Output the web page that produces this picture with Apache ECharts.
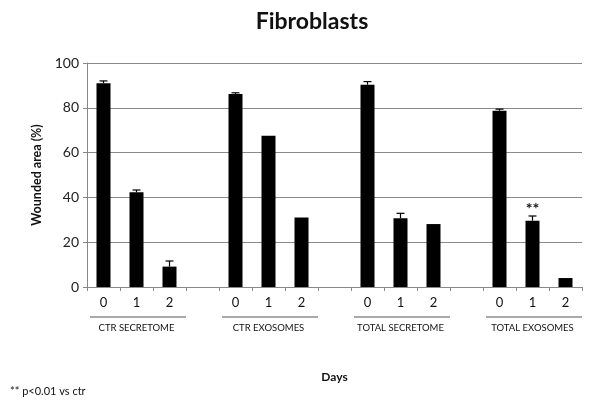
<!DOCTYPE html>
<html><head><meta charset="utf-8">
<script src="https://cdn.jsdelivr.net/npm/echarts@6/dist/echarts.min.js"></script>
<style>html,body{margin:0;padding:0;background:#fff}#c{width:598px;height:408px}</style>
</head><body><div id="c"></div>
<script>
const days = ['0','1','2','','0','1','2','','0','1','2','','0','1','2'];
const groups = ['CTR SECRETOME','CTR EXOSOMES','TOTAL SECRETOME','TOTAL EXOSOMES'];
const groupLabelSlots = ['','CTR SECRETOME','','','','CTR EXOSOMES','','','','TOTAL SECRETOME','','','','TOTAL EXOSOMES',''];
const values = [91, 42.3, 9.1, null, 86.2, 67.5, 31, null, 90.3, 30.7, 28.1, null, 78.7, 29.6, 4];
const errors = [1, 1, 2.5, null, 0.5, 0, 0, null, 1.4, 2.2, 0, null, 0.7, 2.1, 0];
const marks = ['', '', '', '', '', '', '', '', '', '', '', '', '', '**', ''];
const yTicks = [0, 20, 40, 60, 80, 100];

const font = 'Lato, "Liberation Sans", sans-serif';
const chart = echarts.init(document.getElementById('c'));
const errData = values.map((v, i) => v == null ? null : [i, v, errors[i], marks[i]]).filter(d => d);
const footnote = {type: 'text', left: 10, top: 386, style: {text: '** p<0.01 vs ctr', fontFamily: font, fontSize: 11, fill: '#111'}};

chart.setOption({
  animation: false,
  title: {text: 'Fibroblasts', left: 307, top: 5, textAlign: 'center',
    textStyle: {fontFamily: font, fontSize: 23, fontWeight: 'bold', color: '#111'}},
  grid: {left: 87, right: 16, top: 63, bottom: 121},
  xAxis: [{
    type: 'category', data: days, position: 'bottom',
    axisLine: {lineStyle: {color: '#888'}},
    axisTick: {show: true, alignWithLabel: false, length: 4, lineStyle: {color: '#888'}, interval: 0},
    axisLabel: {interval: 0, margin: 9, fontFamily: font, fontSize: 13, color: '#111'},
    name: 'Days', nameLocation: 'middle', nameGap: 84,
    nameTextStyle: {fontFamily: font, fontSize: 12, fontWeight: 'bold', color: '#111'}
  }, {
    type: 'category', data: groupLabelSlots, position: 'bottom', offset: 36,
    axisLine: {show: false}, axisTick: {show: false},
    axisLabel: {interval: 0, fontFamily: font, fontSize: 9.5, color: '#111', margin: 0}
  }],
  yAxis: {
    type: 'value', min: 0, max: 100, interval: 20,
    axisLine: {show: true, lineStyle: {color: '#888'}},
    axisTick: {show: true, length: 4, inside: false, lineStyle: {color: '#888'}},
    splitLine: {lineStyle: {color: '#8a8a8a', width: 1}},
    axisLabel: {margin: 8, fontFamily: font, fontSize: 14, color: '#222',
      formatter: v => yTicks.includes(v) ? String(v) : ''},
    name: 'Wounded area (%)', nameLocation: 'middle', nameGap: 41, nameRotate: 90,
    nameTextStyle: {fontFamily: font, fontSize: 12.5, fontWeight: 'bold', color: '#111'}
  },
  series: [{
    type: 'bar', data: values, barWidth: 14, itemStyle: {color: '#000'}, xAxisIndex: 0
  }, {
    type: 'custom', xAxisIndex: 0, data: errData, z: 5,
    renderItem: (params, api) => {
      const x = api.value(0), v = api.value(1), e = api.value(2);
      const mk = errData[params.dataIndex][3];
      const top = api.coord([x, v + e]);
      const base = api.coord([x, v]);
      const children = [];
      if (e > 0) {
        children.push({type: 'line', shape: {x1: top[0], y1: top[1], x2: base[0], y2: base[1]}, style: {stroke: '#000', lineWidth: 1.2}});
        children.push({type: 'line', shape: {x1: top[0] - 4, y1: top[1], x2: top[0] + 4, y2: top[1]}, style: {stroke: '#000', lineWidth: 1.2}});
      }
      if (mk) {
        children.push({type: 'text', style: {text: mk, x: top[0], y: top[1] + 1, align: 'center', verticalAlign: 'bottom', fontFamily: font, fontSize: 16, fontWeight: 'bold', fill: '#111'}});
      }
      return {type: 'group', children};
    }
  }],
  graphic: [footnote]
});

// Group underlines spanning each group's three day slots
const lines = groups.map((g, k) => {
  const a = chart.convertToPixel({xAxisIndex: 0}, k * 4);
  const b = chart.convertToPixel({xAxisIndex: 0}, k * 4 + 2);
  const half = (b - a) / 4;
  return {type: 'line', shape: {x1: a - half + 3, y1: 317, x2: b + half, y2: 317}, style: {stroke: '#555', lineWidth: 1}};
});
chart.setOption({graphic: [footnote].concat(lines)});
</script></body></html>
